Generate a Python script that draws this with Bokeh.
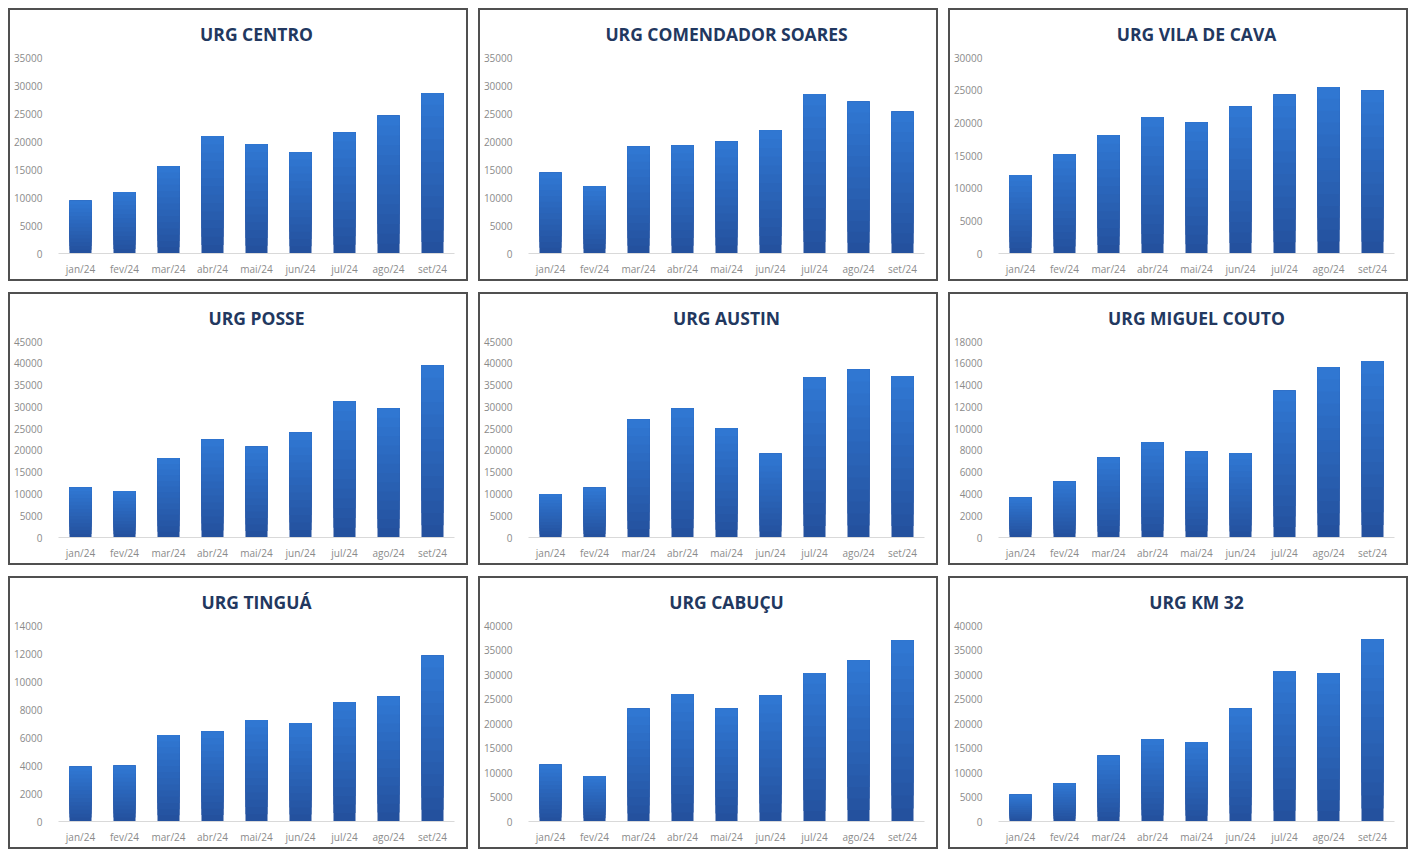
from bokeh.plotting import figure
from bokeh.models import Range1d, FactorRange, SingleIntervalTicker, NumeralTickFormatter
from bokeh.layouts import column, row
from bokeh.embed import file_html
from bokeh.resources import INLINE

months = ["jan/24", "fev/24", "mar/24", "abr/24", "mai/24", "jun/24", "jul/24", "ago/24", "set/24"]

titles = ["URG CENTRO", "URG COMENDADOR SOARES", "URG VILA DE CAVA",
          "URG POSSE", "URG AUSTIN", "URG MIGUEL COUTO",
          "URG TINGUÁ", "URG CABUÇU", "URG KM 32"]

centro = [9400, 11000, 15600, 21000, 19500, 18100, 21600, 24600, 28600]
comendador_soares = [14400, 12000, 19100, 19300, 20000, 22000, 28500, 27100, 25300]
vila_de_cava = [12000, 15200, 18100, 20900, 20050, 22500, 24300, 25500, 24950]
posse = [11500, 10650, 18200, 22500, 20850, 24100, 31300, 29600, 39500]
austin = [10000, 11400, 27100, 29600, 25100, 19200, 36800, 38600, 37100]
miguel_couto = [3670, 5140, 7350, 8750, 7900, 7740, 13470, 15640, 16200]
tingua = [3910, 3980, 6180, 6420, 7250, 7040, 8540, 8920, 11840]
cabucu = [11600, 9300, 23000, 26000, 23050, 25700, 30300, 32900, 37000]
km_32 = [5440, 7800, 13400, 16800, 16200, 23050, 30700, 30300, 37200]

series = [centro, comendador_soares, vila_de_cava, posse, austin, miguel_couto, tingua, cabucu, km_32]

y_max = [35000, 35000, 30000, 45000, 45000, 18000, 14000, 40000, 40000]
y_step = [5000, 5000, 5000, 5000, 5000, 2000, 2000, 5000, 5000]

BAR_BOTTOM = (0x24, 0x51, 0x9e)
BAR_TOP = (0x30, 0x77, 0xd2)
TITLE = "#22385f"
TICK = "#8a8a8a"
FONT = "Open Sans"
N_SHADES = 14
W, H = 456, 269


def shade(t):
    r, g, b = (round(BAR_BOTTOM[i] + (BAR_TOP[i] - BAR_BOTTOM[i]) * t) for i in range(3))
    return "#%02x%02x%02x" % (r, g, b)


def make_panel(title, vals, ymax, step):
    p = figure(width=W, height=H, x_range=FactorRange(*months),
               y_range=Range1d(0, ymax), output_backend="svg",
               toolbar_location=None, tools="",
               min_border_left=46, min_border_right=12,
               min_border_top=47, min_border_bottom=26)
    # bars with a vertical gradient: overlapping upper parts of each bar, lighter towards the top
    for k in range(N_SHADES):
        c = shade(k / (N_SHADES - 1))
        p.vbar(x=months,
               bottom=[v * k / N_SHADES for v in vals],
               top=vals,
               width=0.5, fill_color=c, line_color=None)
    p.title.text = title
    p.title.align = "center"
    p.title.vertical_align = "top"
    p.title.text_font = FONT
    p.title.text_font_size = "17.5px"
    p.title.text_font_style = "bold"
    p.title.text_color = TITLE
    p.title.standoff = 20
    p.outline_line_color = None
    p.xgrid.grid_line_color = None
    p.ygrid.grid_line_color = None
    p.yaxis.ticker = SingleIntervalTicker(interval=step)
    p.yaxis.formatter = NumeralTickFormatter(format="0")
    p.yaxis.axis_line_color = None
    p.yaxis.major_tick_line_color = None
    p.yaxis.minor_tick_line_color = None
    p.yaxis.major_label_text_font = FONT
    p.yaxis.major_label_text_font_size = "10px"
    p.yaxis.major_label_text_color = TICK
    p.yaxis.major_label_standoff = 10
    p.xaxis.axis_line_color = "#d9d9d9"
    p.xaxis.major_tick_line_color = None
    p.xaxis.minor_tick_line_color = None
    p.xaxis.major_label_text_font = FONT
    p.xaxis.major_label_text_font_size = "10px"
    p.xaxis.major_label_text_color = TICK
    p.xaxis.major_label_standoff = 2
    p.background_fill_color = "white"
    p.border_fill_color = "white"
    box = column(p, styles={"border": "2px solid #505050", "background-color": "white"})
    return box


panels = [make_panel(t, v, m, s) for t, v, m, s in zip(titles, series, y_max, y_step)]

layout = column(
    row(panels[0], panels[1], panels[2], spacing=10),
    row(panels[3], panels[4], panels[5], spacing=10),
    row(panels[6], panels[7], panels[8], spacing=10),
    spacing=11,
    margin=(8, 0, 0, 8),
)

open("out.html", "w").write(file_html(layout, INLINE))
